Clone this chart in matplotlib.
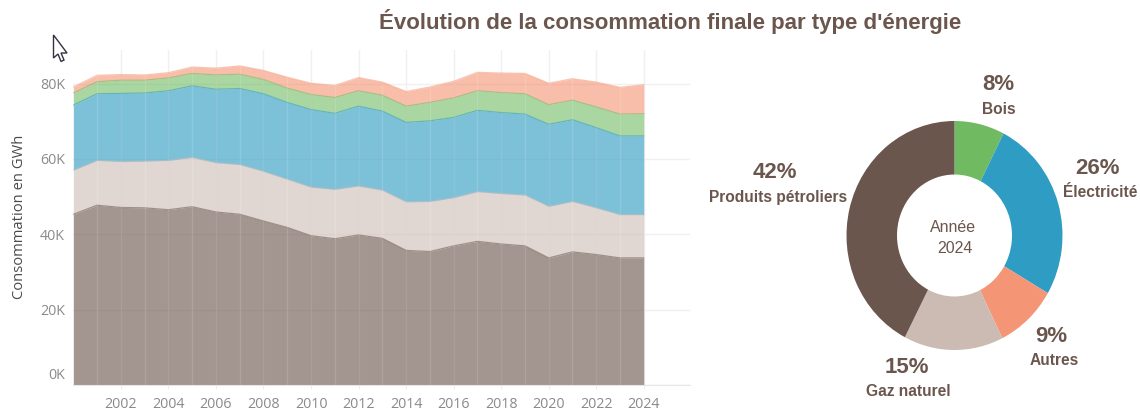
"""Consommation finale par type d'energie: stacked area + 2024 donut."""
import matplotlib
matplotlib.use("Agg")
import matplotlib.pyplot as plt
from matplotlib.patches import Polygon
from matplotlib.transforms import ScaledTranslation
import numpy as np

W, H = 1140, 411

years = list(range(2000, 2025))
# GWh
petrole = [45300, 47700, 47100, 47000, 46500, 47300, 45900, 45300, 43500, 41800, 39600, 38800, 39800,
           38900, 35700, 35400, 36900, 38100, 37400, 36900, 33700, 35300, 34600, 33700, 33700]
gaz = [11700, 11900, 12200, 12400, 13100, 13100, 13100, 13200, 13200, 12800, 12900, 13100, 13000,
       12800, 12900, 13300, 12800, 13200, 13400, 13500, 13700, 13400, 12400, 11500, 11500]
electricite = [17300, 17700, 18100, 18100, 18500, 19000, 19500, 20200, 20600, 20400, 20600, 20200, 21200,
               21000, 21100, 21400, 21300, 21600, 21500, 21500, 21800, 21700, 21300, 20900, 20900]
bois = [3200, 3200, 3500, 3400, 3400, 3300, 3800, 3800, 3800, 3800, 4000, 4200, 4100,
        4200, 4300, 4900, 5200, 5200, 5300, 5400, 5200, 5200, 5500, 5800, 5900]
autres = [1600, 1700, 1500, 1400, 1400, 1700, 1800, 2200, 2400, 2900, 3000, 3200, 3500,
          3500, 3900, 4100, 4400, 4900, 5200, 5400, 5700, 5700, 6600, 7100, 7700]

# donut, clockwise from the top; wedge sizes measured, labels as printed
donut_names = ["Bois", "Électricité", "Autres", "Gaz naturel", "Produits pétroliers"]
donut_shares = [7.5, 25.9, 9.3, 14.9, 42.4]
donut_labels = ["8%", "26%", "9%", "15%", "42%"]

BROWN = "#6b564d"
GREEN = "#70bb62"
BLUE = "#2e9cc3"
ORANGE = "#f49676"
BEIGE = "#ccbbb3"
TICK = "#8a8a8a"
FONT = "Liberation Sans"


def px(x, y):
    return x / W, 1 - y / H


fig = plt.figure(figsize=(W / 100, H / 100), dpi=100)

# ===== stacked area =====
left, right, top, bottom = 73.3, 690, 50, 384.8
ax = fig.add_axes([left / W, 1 - bottom / H, (right - left) / W, (bottom - top) / H])
ax.set_xlim(2000, 2000 + (right - left) / 23.77)
ax.set_ylim(0, (bottom - top) / 75.3 * 20000)

ax.set_axisbelow(True)
ax.grid(True, color="#f1efef", linewidth=1)
layers = [petrole, gaz, electricite, bois, autres]
colors = [BROWN, BEIGE, BLUE, GREEN, ORANGE]
alphas = [0.62, 0.58, 0.62, 0.6, 0.62]
base = np.zeros(len(years))
for vals, col, a in zip(layers, colors, alphas):
    tops = base + np.array(vals)
    ax.fill_between(years, base, tops, color=col, alpha=a, linewidth=0)
    ax.plot(years, tops, color=col, alpha=0.55, linewidth=0.9)
    base = tops
# faint year lines over the fill
ax.vlines(years, 0, base, color="white", alpha=0.13, linewidth=1)

ax.set_xticks(range(2002, 2025, 2))
ax.set_yticks([0, 20000, 40000, 60000, 80000])
ax.set_yticklabels(["0K", "20K", "40K", "60K", "80K"])
ax.tick_params(axis="x", length=3, color="#eeeeee", labelcolor=TICK, labelsize=10.3, pad=6)
ax.tick_params(axis="y", length=0, labelcolor=TICK, labelsize=10.3, pad=6)
for lab in ax.get_xticklabels() + ax.get_yticklabels():
    lab.set_family("Open Sans")
# Tableau pushes the 0K label up inside the axis
zero = ax.get_yticklabels()[0]
zero.set_transform(zero.get_transform() + ScaledTranslation(0, 11 / 100, fig.dpi_scale_trans))
for side in ("top", "right", "left"):
    ax.spines[side].set_visible(False)
ax.spines["bottom"].set_color("#e8e6e6")

fig.text(*px(20, 217), "Consommation en GWh", rotation=90, ha="center", va="center",
         fontsize=10.6, color="#4a4a4a", family="Open Sans")

# ===== donut (the screenshot is stretched a little in height) =====
cx, cy, rx, ry = 954.5, 235.5, 108, 114.5
ax2 = fig.add_axes([(cx - rx) / W, 1 - (cy + ry) / H, 2 * rx / W, 2 * ry / H])
ax2.pie(donut_shares, colors=[GREEN, BLUE, ORANGE, BEIGE, BROWN], startangle=90, counterclock=False,
        radius=1, wedgeprops=dict(width=1 - 57.5 / 108, linewidth=0))
ax2.set_aspect("auto")
ax2.set_xlim(-1, 1)
ax2.set_ylim(-1, 1)

share_pos = [(998, 85), (1097, 168), (1051, 336), (907, 367), (775, 172)]
name_pos = [(999, 110), (1100, 192), (1054, 360), (908, 391), (778, 197)]
for name, lab, sp, np_ in zip(donut_names, donut_labels, share_pos, name_pos):
    fig.text(*px(*sp), lab, ha="center", va="center", fontsize=16, fontweight="bold",
             color=BROWN, family=FONT)
    fig.text(*px(*np_), name, ha="center", va="center", fontsize=11.2, fontweight="bold",
             color=BROWN, family=FONT)
fig.text(*px(953, 227), "Année", ha="center", va="center", fontsize=11.5, color=BROWN, family=FONT)
fig.text(*px(955, 248), "2024", ha="center", va="center", fontsize=11.5, color=BROWN, family=FONT)

fig.text(*px(670, 22), "Évolution de la consommation finale par type d'énergie", ha="center", va="center",
         fontsize=16, fontweight="bold", color=BROWN, family=FONT)

# mouse pointer left in the screenshot
cursor = [(53.5, 35), (53.5, 58), (58, 54), (61, 61.5), (64, 60), (61, 53), (67, 53)]
fig.add_artist(Polygon([px(*p) for p in cursor], closed=True, transform=fig.transFigure,
                       facecolor="white", edgecolor="#333344", linewidth=1))

fig.savefig("out.png", dpi=100)
